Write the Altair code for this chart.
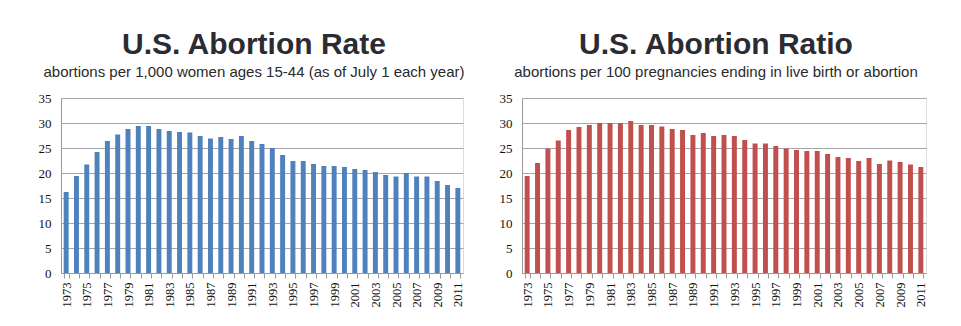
import altair as alt
import pandas as pd

years = list(range(1973, 2012))
rate = [16.2, 19.4, 21.7, 24.2, 26.4, 27.7, 28.8, 29.4, 29.4, 28.8,
        28.4, 28.2, 28.1, 27.4, 26.9, 27.2, 26.8, 27.4, 26.4, 25.8,
        25.0, 23.6, 22.4, 22.4, 21.8, 21.4, 21.4, 21.2, 20.8, 20.6,
        20.2, 19.6, 19.3, 20.0, 19.3, 19.3, 18.4, 17.6, 17.0]
ratio = [19.4, 22.0, 24.9, 26.5, 28.6, 29.2, 29.6, 30.0, 30.0, 30.0,
         30.4, 29.6, 29.6, 29.3, 28.8, 28.6, 27.6, 28.0, 27.4, 27.6,
         27.4, 26.6, 25.9, 25.9, 25.4, 24.9, 24.6, 24.4, 24.4, 23.8,
         23.2, 23.0, 22.4, 23.0, 21.8, 22.5, 22.2, 21.7, 21.2]
y_ticks = [0, 5, 10, 15, 20, 25, 30, 35]

titles = ["U.S. Abortion Rate", "U.S. Abortion Ratio"]
subtitles = ["abortions per 1,000 women ages 15-44 (as of July 1 each year)",
             "abortions per 100 pregnancies ending in live birth or abortion"]
colors = ["#4f81bd", "#c0504d"]

df_rate = pd.DataFrame({"year": years, "value": rate})
df_ratio = pd.DataFrame({"year": years, "value": ratio})

SERIF = "Liberation Serif"


def panel(df, title, subtitle, color, width):
    return alt.Chart(df).mark_bar(color=color).encode(
        x=alt.X("year:O",
                scale=alt.Scale(paddingInner=0.52, paddingOuter=0.26),
                axis=alt.Axis(title=None, labelAngle=270, labelAlign="right",
                              labelBaseline="middle", labelPadding=4,
                              labelExpr="datum.value % 2 == 1 ? datum.label : ''",
                              labelOverlap=False, tickBand="extent", tickSize=5,
                              tickColor="#9a9a9a", domainColor="#9a9a9a",
                              labelFont=SERIF, labelFontSize=12.5,
                              labelColor="#111")),
        y=alt.Y("value:Q",
                scale=alt.Scale(domain=[0, 35], nice=False),
                axis=alt.Axis(title=None, values=y_ticks, ticks=False,
                              labelPadding=10, domainColor="#9a9a9a",
                              gridColor="#a6a6a6", gridWidth=1,
                              labelFont=SERIF, labelFontSize=13,
                              labelColor="#111")),
    ).properties(
        width=width, height=175,
        title=alt.TitleParams(text=title, subtitle=subtitle, anchor="middle",
                              dx=-8, fontSize=30, fontWeight="bold",
                              font="Liberation Sans", color="#2b2c33",
                              subtitleFont="Liberation Sans",
                              subtitleFontSize=15, subtitleColor="#2a2a2a",
                              subtitlePadding=5, offset=12)
    )


left = panel(df_rate, titles[0], subtitles[0], colors[0], 402)
right = panel(df_ratio, titles[1], subtitles[1], colors[1], 404)

chart = alt.hconcat(left, right, spacing=59, bounds="flush").properties(
    padding={"left": 37, "top": 29, "right": 5, "bottom": 5}
).configure_view(stroke=None).configure(background="white")

chart.save("out.html", embed_options={"renderer": "svg", "actions": False})
